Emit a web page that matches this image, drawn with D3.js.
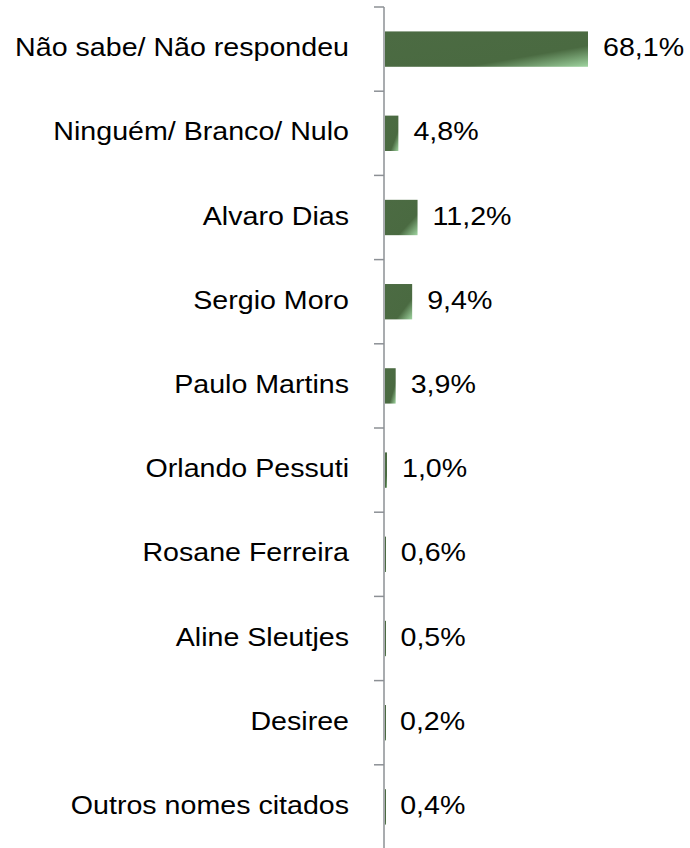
<!DOCTYPE html>
<html>
<head>
<meta charset="utf-8">
<style>
  body { margin: 0; background: #fff; }
  text { font-family: "Liberation Sans", Arial, sans-serif; }
</style>
<script src="https://d3js.org/d3.v7.min.js"></script>
</head>
<body>
<div class="home"></div>
<script>
// categories, top to bottom
const names = [
  "Não sabe/ Não respondeu",
  "Ninguém/ Branco/ Nulo",
  "Alvaro Dias",
  "Sergio Moro",
  "Paulo Martins",
  "Orlando Pessuti",
  "Rosane Ferreira",
  "Aline Sleutjes",
  "Desiree",
  "Outros nomes citados"
];
const values = [68.1, 4.8, 11.2, 9.4, 3.9, 1.0, 0.6, 0.5, 0.2, 0.4];
const valueLabels = ["68,1%", "4,8%", "11,2%", "9,4%", "3,9%", "1,0%", "0,6%", "0,5%", "0,2%", "0,4%"];

const width = 690, height = 848;
const x0 = 384;

const svg = d3.select(".home").append("svg")
    .attr("width", width)
    .attr("height", height);

const defs = svg.append("defs");
const grad = defs.append("linearGradient")
    .attr("id", "barGrad")
    .attr("x1", 0).attr("y1", 0)
    .attr("x2", 1).attr("y2", 1);
grad.append("stop").attr("offset", "0").attr("stop-color", "#4c6b43");
grad.append("stop").attr("offset", "0.7").attr("stop-color", "#4a6a41");
grad.append("stop").attr("offset", "1").attr("stop-color", "#9fd4a0");

const x = d3.scaleLinear()
    .domain([0, 68.1])
    .range([x0, x0 + 204]);

const y = d3.scaleBand()
    .domain(names)
    .range([7, 849])
    .paddingInner(0.58)
    .paddingOuter(0.29);

// axis with ticks between categories
const yAxis = svg.append("g");
yAxis.append("line")
    .attr("x1", x0).attr("x2", x0)
    .attr("y1", 7).attr("y2", 849)
    .attr("stroke", "#8c9095")
    .attr("stroke-width", 1.5);

const step = y.step();
const tickYs = d3.range(names.length).map(i => 7 + i * step);
yAxis.selectAll(".tick")
    .data(tickYs)
    .enter().append("line")
    .attr("x1", x0 - 10).attr("x2", x0)
    .attr("y1", d => d).attr("y2", d => d)
    .attr("stroke", "#8c9095")
    .attr("stroke-width", 1.5);

svg.selectAll(".bar")
    .data(values)
    .enter().append("rect")
    .attr("x", x0 + 1)
    .attr("y", (d, i) => y(names[i]))
    .attr("width", d => Math.max(x(d) - x0 - 1, 1))
    .attr("height", y.bandwidth())
    .attr("fill", "url(#barGrad)");

// text is slightly wide in the original
const sx = 1.1;

svg.selectAll(".name")
    .data(names)
    .enter().append("text")
    .attr("transform", d => `translate(349,${y(d) + y.bandwidth() / 2 - 2}) scale(${sx},1)`)
    .attr("dy", "0.35em")
    .attr("text-anchor", "end")
    .attr("font-size", 26)
    .attr("fill", "#000")
    .text(d => d);

svg.selectAll(".val")
    .data(values)
    .enter().append("text")
    .attr("transform", (d, i) => `translate(${Math.max(x(d), x0 + 1) + 15},${y(names[i]) + y.bandwidth() / 2 - 2}) scale(${sx},1)`)
    .attr("dy", "0.35em")
    .attr("font-size", 26)
    .attr("fill", "#000")
    .text((d, i) => valueLabels[i]);
</script>
</body>
</html>
